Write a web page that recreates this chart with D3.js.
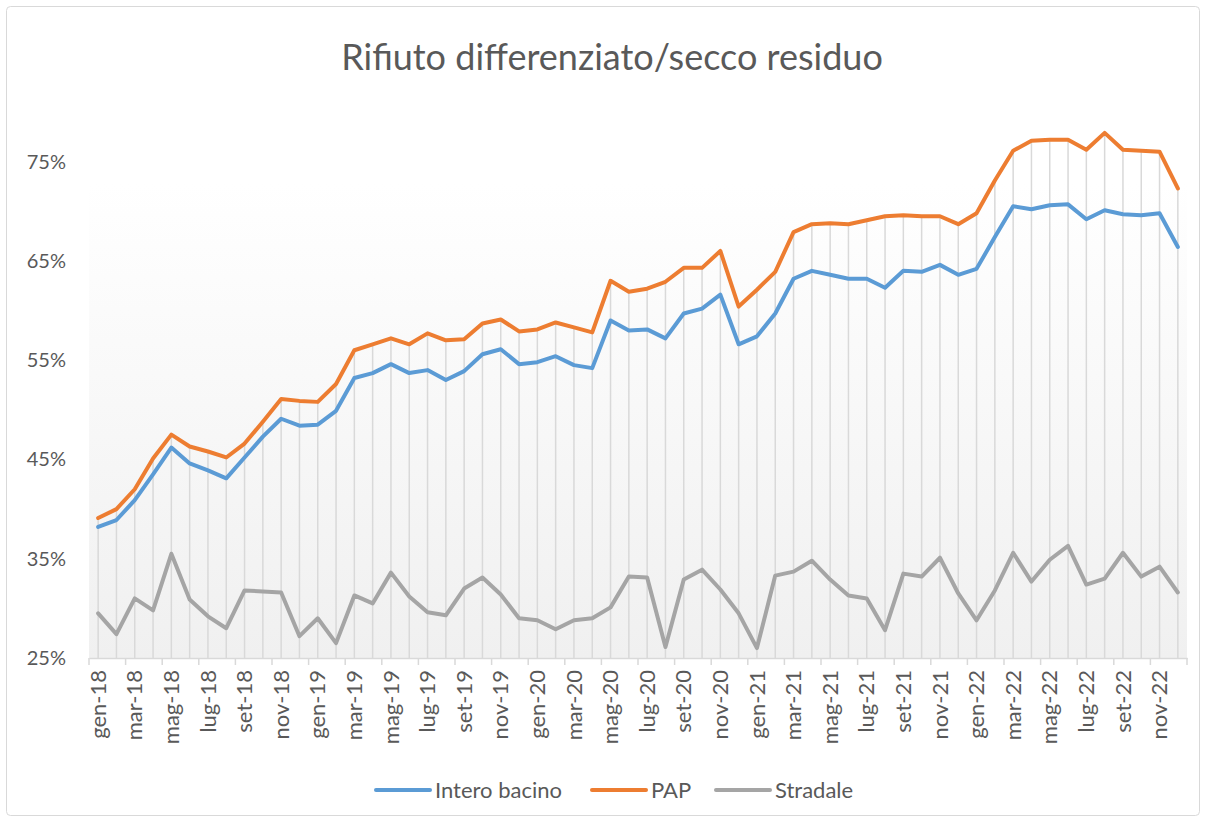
<!DOCTYPE html>
<html lang="it">
<head>
<meta charset="utf-8">
<title>Rifiuto differenziato/secco residuo</title>
<script src="https://d3js.org/d3.v7.min.js"></script>
<style>
  html, body { margin: 0; padding: 0; background: #fff; }
  body { font-family: Lato, "Open Sans", sans-serif; }
  .axis text { fill: #595959; }
</style>
</head>
<body>
<script>
// mesi gen-18 .. dic-22
var mesi = ["gen","feb","mar","apr","mag","giu","lug","ago","set","ott","nov","dic"];
var anni = ["18","19","20","21","22"];
var categorie = [];
anni.forEach(function (a) { mesi.forEach(function (m) { categorie.push(m + "-" + a); }); });

var interoBacino = [38.2,38.9,40.9,43.5,46.2,44.6,43.9,43.1,45.2,47.3,49.1,48.4,
  48.5,49.9,53.2,53.7,54.6,53.7,54.0,53.0,53.9,55.6,56.1,54.6,
  54.8,55.4,54.5,54.2,59.0,58.0,58.1,57.2,59.7,60.2,61.6,56.6,
  57.4,59.7,63.2,64.0,63.6,63.2,63.2,62.3,64.0,63.9,64.6,63.6,
  64.2,67.4,70.5,70.2,70.6,70.7,69.2,70.1,69.7,69.6,69.8,66.4];
var pap = [39.1,40.0,42.0,45.1,47.5,46.3,45.8,45.2,46.6,48.8,51.1,50.9,
  50.8,52.6,56.0,56.6,57.2,56.6,57.7,57.0,57.1,58.7,59.1,57.9,
  58.1,58.8,58.3,57.8,63.0,61.9,62.2,62.9,64.3,64.3,66.0,60.4,
  62.1,63.9,67.9,68.7,68.8,68.7,69.1,69.5,69.6,69.5,69.5,68.7,
  69.8,73.1,76.1,77.1,77.2,77.2,76.2,77.9,76.2,76.1,76.0,72.3];
var stradale = [29.5,27.4,31.0,29.8,35.5,30.9,29.2,28.0,31.8,31.7,31.6,27.2,
  29.0,26.5,31.3,30.5,33.6,31.2,29.6,29.3,32.0,33.1,31.4,29.0,
  28.8,27.9,28.8,29.0,30.1,33.2,33.1,26.1,32.9,33.9,31.9,29.5,
  26.0,33.3,33.7,34.8,32.9,31.3,31.0,27.8,33.5,33.2,35.1,31.5,
  28.8,31.8,35.6,32.7,34.9,36.3,32.4,33.0,35.6,33.2,34.2,31.6];
var yTicks = [25, 35, 45, 55, 65, 75];

var serie = [
  { nome: "Intero bacino", valori: interoBacino, colore: "#5b9bd5" },
  { nome: "PAP", valori: pap, colore: "#ed7d31" },
  { nome: "Stradale", valori: stradale, colore: "#a5a5a5" }
];

var w = 1206, h = 822;
var svg = d3.select("body").append("svg")
  .attr("width", w).attr("height", h);

// bordo del grafico
svg.append("rect")
  .attr("x", 6.5).attr("y", 6.5)
  .attr("width", w - 13).attr("height", h - 13)
  .attr("rx", 4)
  .attr("fill", "#fff").attr("stroke", "#d9d9d9");

var pLeft = 89, pRight = 1187, pTop = 112, pBottom = 658;

var x = d3.scaleBand().domain(categorie).range([pLeft, pRight]);
var y = d3.scaleLinear().domain([25, 80]).range([pBottom, pTop]);
var cx = function (c) { return x(c) + x.bandwidth() / 2; };

// sfondo sfumato
var defs = svg.append("defs");
var grad = defs.append("linearGradient")
  .attr("id", "sfondo").attr("x1", 0).attr("y1", 0).attr("x2", 0).attr("y2", 1);
grad.append("stop").attr("offset", "0%").attr("stop-color", "#ffffff");
grad.append("stop").attr("offset", "100%").attr("stop-color", "#f0f0f0");

svg.append("rect")
  .attr("x", pLeft).attr("y", 183)
  .attr("width", pRight - pLeft).attr("height", pBottom - 183)
  .attr("fill", "url(#sfondo)");

// titolo
svg.append("text")
  .attr("x", 612).attr("y", 70)
  .attr("text-anchor", "middle")
  .attr("font-size", 36)
  .attr("fill", "#595959")
  .text("Rifiuto differenziato/secco residuo");

// linee di proiezione
svg.append("g").selectAll("line")
  .data(categorie)
  .join("line")
  .attr("x1", cx).attr("x2", cx)
  .attr("y1", y(25))
  .attr("y2", function (c, i) { return y(d3.max(serie, function (s) { return s.valori[i]; })); })
  .attr("stroke", "#d9d9d9")
  .attr("stroke-width", 1.5);

// asse y
var axisY = d3.axisLeft(y)
  .tickValues(yTicks)
  .tickSize(0)
  .tickPadding(0)
  .tickFormat(function (d) { return d + "%"; });
var gy = svg.append("g").attr("class", "axis")
  .attr("transform", "translate(66,0)")
  .call(axisY);
gy.select(".domain").remove();
gy.selectAll("text").attr("font-size", 20).attr("font-family", "Lato, sans-serif");

// asse x
var etichette = categorie.filter(function (c, i) { return i % 2 === 0; });
var axisX = d3.axisBottom(x)
  .tickValues(etichette)
  .tickSize(0)
  .tickPadding(0);
var gx = svg.append("g").attr("class", "axis")
  .attr("transform", "translate(0," + pBottom + ")")
  .call(axisX);
gx.select(".domain").attr("stroke", "#d9d9d9").attr("stroke-width", 1.5);
gx.selectAll("text")
  .attr("font-size", 22)
  .attr("font-family", "Lato, sans-serif")
  .attr("text-anchor", "end")
  .attr("transform", "rotate(-90)")
  .attr("x", -12)
  .attr("y", 0)
  .attr("dy", "0.35em");

// tacche ogni 2 mesi sui bordi
svg.append("g").selectAll("line")
  .data(etichette.concat(["fine"]))
  .join("line")
  .attr("x1", function (c) { return c === "fine" ? pRight : x(c); })
  .attr("x2", function (c) { return c === "fine" ? pRight : x(c); })
  .attr("y1", pBottom).attr("y2", pBottom + 7)
  .attr("stroke", "#d9d9d9").attr("stroke-width", 1.5);

// linee
var linea = d3.line()
  .x(function (d, i) { return cx(categorie[i]); })
  .y(function (d) { return y(d); });

svg.append("g").selectAll("path")
  .data(serie.slice().reverse())
  .join("path")
  .attr("d", function (s) { return linea(s.valori); })
  .attr("fill", "none")
  .attr("stroke", function (s) { return s.colore; })
  .attr("stroke-width", 4)
  .attr("stroke-linejoin", "round")
  .attr("stroke-linecap", "round");

// legenda
var posLegenda = [376, 592, 716];
var leg = svg.append("g").selectAll("g")
  .data(serie)
  .join("g")
  .attr("transform", function (s, i) { return "translate(" + posLegenda[i] + ",790)"; });
leg.append("line")
  .attr("x1", 0).attr("x2", 54)
  .attr("stroke", function (s) { return s.colore; })
  .attr("stroke-width", 4)
  .attr("stroke-linecap", "round");
leg.append("text")
  .attr("x", 59).attr("dy", "0.35em")
  .attr("font-size", 22)
  .attr("fill", "#595959")
  .text(function (s) { return s.nome; });
</script>
</body>
</html>
